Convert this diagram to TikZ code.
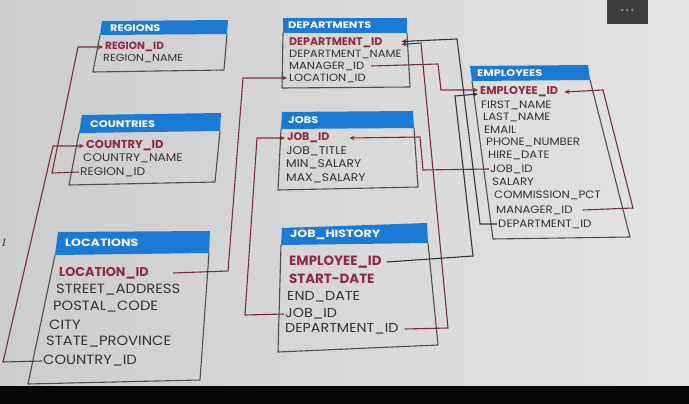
\documentclass[tikz,border=0pt]{standalone}
\usepackage{fontspec}
\setmainfont{Poppins}
\newfontfamily\regfont[FakeStretch=1.1]{Poppins}
\newfontfamily\hdrfont[FakeStretch=1.2]{Poppins}
\newfontfamily\seriffont{Liberation Serif}
\usetikzlibrary{arrows.meta}
\definecolor{bgL}{HTML}{CDCDCD}
\definecolor{bgR}{HTML}{E4E4E4}
\definecolor{hdrblue}{HTML}{1B7AD3}
\definecolor{boxgray}{HTML}{4D4F50}
\definecolor{txtgray}{HTML}{333335}
\definecolor{keyred}{HTML}{8E2A48}
\definecolor{linered}{HTML}{7A2E3A}
\definecolor{lineblack}{HTML}{2F3836}
\definecolor{barblack}{HTML}{050505}
\definecolor{menugray}{HTML}{3B3E3B}
% regular field sizes
\newcommand\rsR{\fontsize{10.2}{12}\selectfont}
\newcommand\rsD{\fontsize{10.5}{12}\selectfont}
\newcommand\rsJ{\fontsize{11.2}{12}\selectfont}
\newcommand\rsE{\fontsize{10.7}{12}\selectfont}
\newcommand\rsC{\fontsize{11.1}{12}\selectfont}
\newcommand\rsL{\fontsize{13.4}{14}\selectfont}
\newcommand\rsH{\fontsize{13}{13}\selectfont}
% key field sizes
\newcommand\ksR{\fontsize{10.5}{12}\selectfont}
\newcommand\ksD{\fontsize{11}{12}\selectfont}
\newcommand\ksJ{\fontsize{11}{12}\selectfont}
\newcommand\ksE{\fontsize{11.3}{12}\selectfont}
\newcommand\ksC{\fontsize{11.5}{12}\selectfont}
\newcommand\ksL{\fontsize{12.8}{13}\selectfont}
\newcommand\ksH{\fontsize{13.4}{13}\selectfont}
% header sizes
\newcommand\hsS{\fontsize{9.5}{10}\selectfont}
\newcommand\hsL{\fontsize{10.5}{11}\selectfont}
\begin{document}
\begin{tikzpicture}[x=1pt,y=-1pt,
  fld/.style={anchor=west,inner sep=0pt,text=txtgray,font=\regfont#1},
  key/.style={anchor=west,inner sep=0pt,text=keyred,font=#1\bfseries},
  hdr/.style={anchor=west,inner sep=0pt,text=white,font=\hdrfont\bfseries#1},
  hdr/.default=\hsS,
  hbar/.style={fill=hdrblue},
  frame/.style={draw=boxgray,line width=1.1pt,line join=round},
  rl/.style={draw=linered,line width=1.1pt},
  kl/.style={draw=lineblack,line width=1.1pt},
  tip/.style={-{Stealth[length=5pt,width=4.5pt]}}
]
\useasboundingbox (0,0) rectangle (689,404);
% background
\shade[left color=bgL,right color=bgR] (0,0) rectangle (689,386);
\fill[barblack] (0,386) rectangle (689,404);
\fill[menugray] (607,0) rectangle (648,24);
\fill[gray!60] (622,10) circle (1pt) (627,10) circle (1pt) (632,10) circle (1pt);
\node[text=gray!40!black,font=\seriffont\itshape\fontsize{11}{11}\selectfont,inner sep=0pt] (cursor) at (4,243) {I};

% REGIONS
\fill[hbar] (102,21) -- (228,20) -- (227,34) -- (100,35) -- cycle;
\draw[frame] (100,35) -- (93,72) -- (224,70) -- (227,34);
\node[hdr] (rH) at (110,28) {REGIONS};
\node[key=\ksR] (rRid) at (105,47) {REGION\_ID};
\node[fld=\rsR] (rRnm) at (103,59) {REGION\_NAME};

% COUNTRIES
\fill[hbar] (82,115) -- (221,113) -- (220,131) -- (79,133) -- cycle;
\draw[frame] (79,133) -- (69,185) -- (215,182) -- (220,131);
\node[hdr] (cH) at (90,124) {COUNTRIES};
\node[key=\ksC] (cCid) at (86,146) {COUNTRY\_ID};
\node[fld=\rsC] (cCnm) at (83,158) {COUNTRY\_NAME};
\node[fld=\rsC] (cRid) at (80,172) {REGION\_ID};

% LOCATIONS
\fill[hbar] (58,232) -- (210,231) -- (209,253) -- (55,255) -- cycle;
\draw[frame] (55,255) -- (28,384) -- (200,380) -- (209,253);
\node[hdr=\hsL] (lH) at (65,243) {LOCATIONS};
\node[key=\ksL] (lLid) at (59,273) {LOCATION\_ID};
\node[fld=\rsL] (lSa) at (56,290) {STREET\_ADDRESS};
\node[fld=\rsL] (lPc) at (53,307) {POSTAL\_CODE};
\node[fld=\rsL] (lCi) at (49,325) {CITY};
\node[fld=\rsL] (lSp) at (46,342) {STATE\_PROVINCE};
\node[fld=\rsL] (lCid) at (43,361) {COUNTRY\_ID};

% DEPARTMENTS
\fill[hbar] (283,18) -- (407,18) -- (407,33) -- (283,33) -- cycle;
\draw[frame] (283,33) -- (282,88) -- (410,87) -- (407,33);
\node[hdr] (dH) at (288,25) {DEPARTMENTS};
\node[key=\ksD] (dDid) at (289,43) {DEPARTMENT\_ID};
\node[fld=\rsD] (dDnm) at (289,54) {DEPARTMENT\_NAME};
\node[fld=\rsD] (dMid) at (289,66) {MANAGER\_ID};
\node[fld=\rsD] (dLid) at (289,78) {LOCATION\_ID};

% JOBS
\fill[hbar] (282,112) -- (413,111) -- (414,128) -- (281,129) -- cycle;
\draw[frame] (281,129) -- (278,190) -- (418,187) -- (414,128);
\node[hdr] (jH) at (288,120) {JOBS};
\node[key=\ksJ] (jJid) at (287,138) {JOB\_ID};
\node[fld=\rsJ] (jJt) at (286,151) {JOB\_TITLE};
\node[fld=\rsJ] (jMin) at (286,164) {MIN\_SALARY};
\node[fld=\rsJ] (jMax) at (286,178) {MAX\_SALARY};

% JOB_HISTORY
\fill[hbar] (282,228) -- (427,223) -- (428,243) -- (281,245) -- cycle;
\draw[frame] (281,245) -- (278,352) -- (438,345) -- (428,243);
\node[hdr=\hsL] (hH) at (290,235) {JOB\_HISTORY};
\node[key=\ksH] (hEid) at (289,262) {EMPLOYEE\_ID};
\node[key=\ksH] (hSd) at (289,279) {START-DATE};
\node[fld=\rsH] (hEd) at (287,297) {END\_DATE};
\node[fld=\rsH] (hJid) at (285,314) {JOB\_ID};
\node[fld=\rsH] (hDid) at (285,329) {DEPARTMENT\_ID};

% EMPLOYEES
\fill[hbar] (470,66) -- (588,65) -- (590,80) -- (472,81) -- cycle;
\draw[frame] (472,81) -- (493,239) -- (630,237) -- (590,80);
\node[hdr] (eH) at (477,73) {EMPLOYEES};
\node[key=\ksE] (eEid) at (480,92) {EMPLOYEE\_ID};
\node[fld=\rsE] (eFn) at (481,105) {FIRST\_NAME};
\node[fld=\rsE] (eLn) at (483,117) {LAST\_NAME};
\node[fld=\rsE] (eEm) at (484,130) {EMAIL};
\node[fld=\rsE] (ePh) at (486,142) {PHONE\_NUMBER};
\node[fld=\rsE] (eHd) at (488,155) {HIRE\_DATE};
\node[fld=\rsE] (eJid) at (490,169) {JOB\_ID};
\node[fld=\rsE] (eSa) at (492,182) {SALARY};
\node[fld=\rsE] (eCp) at (494,195) {COMMISSION\_PCT};
\node[fld=\rsE] (eMid) at (496,210) {MANAGER\_ID};
\node[fld=\rsE] (eDid) at (498,224) {DEPARTMENT\_ID};

% connectors
\draw[rl,tip] ([xshift=-1pt]cRid.west) -- (52,173) -- (78,47) -- ([xshift=-2pt]rRid.west);
\draw[rl,tip] ([xshift=-1pt]lCid.west) -- (3,362) -- (53,146) -- ([xshift=-2pt]cCid.west);
\draw[rl,tip] ([xshift=24pt]lLid.east) -- (228,271) -- (243,78) -- ([xshift=-2pt]dLid.west);
\draw[rl,tip] ([xshift=-1pt]hJid.west) -- (245,315) -- (257,138) -- ([xshift=-2pt]jJid.west);
\draw[rl,tip] ([xshift=-1pt]eJid.west) -- (423,170) -- (420,137) -- ([xshift=20pt]jJid.east);
\draw[rl,tip] ([xshift=7pt]dMid.east) -- (438,64) -- (441,90) -- ([xshift=-2pt,yshift=2pt]eEid.west);
\draw[rl,tip] ([xshift=6pt]hDid.east) -- (448,328) -- (421,43) -- ([xshift=19pt,yshift=-1.5pt]dDid.east);
\draw[kl,tip] ([xshift=-1pt]eDid.west) -- (480,224) -- (457,39) -- ([xshift=19pt,yshift=1.5pt]dDid.east);
\draw[kl,tip] ([xshift=5pt]hEid.east) -- (473,256) -- (455,96) -- ([xshift=-2pt,yshift=-2pt]eEid.west);
\draw[rl,tip] ([xshift=10pt]eMid.east) -- (633,208) -- (603,90) -- ([xshift=6pt]eEid.east);
\end{tikzpicture}
\end{document}
